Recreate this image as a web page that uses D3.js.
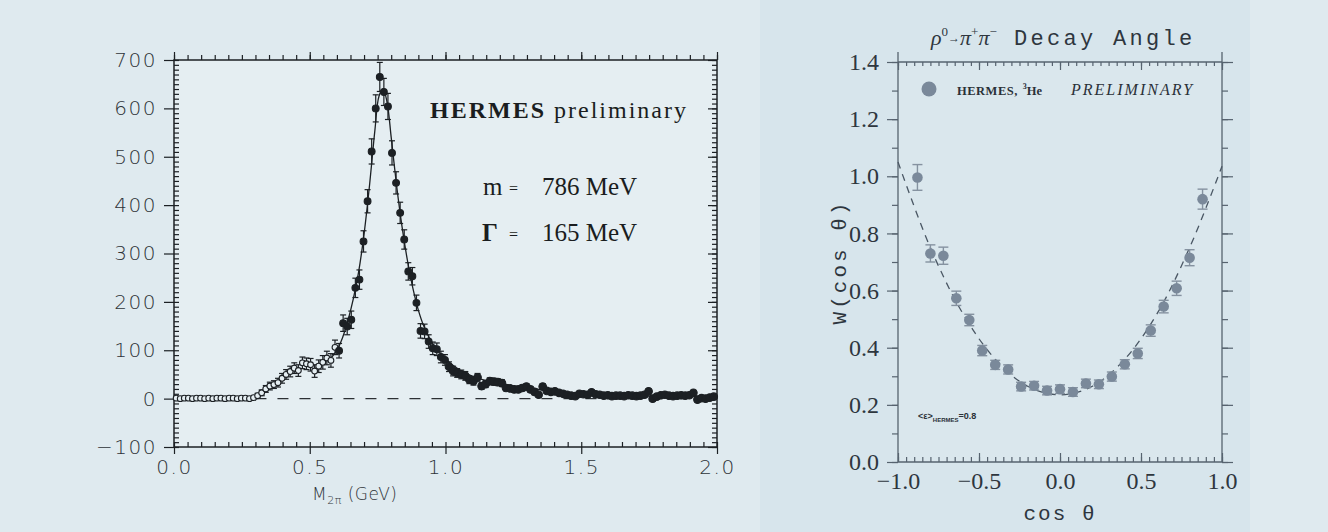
<!DOCTYPE html>
<html>
<head>
<meta charset="utf-8">
<script src="https://cdn.jsdelivr.net/npm/d3@7/dist/d3.min.js"></script>
<style>
  body { margin: 0; background: #dde9ef; }
  svg { display: block; }
</style>
</head>
<body>
<div id="chart"></div>
<script>
(function() {
  // ---- left panel: pi+pi- invariant mass spectrum ----
  var massBins = [
    0.008, 0.023, 0.038, 0.053, 0.068, 0.083, 0.098, 0.113, 0.128, 0.143,
    0.158, 0.173, 0.188, 0.203, 0.218, 0.233, 0.248, 0.263, 0.278, 0.293,
    0.308, 0.323, 0.338, 0.353, 0.368, 0.383, 0.398, 0.413, 0.428, 0.443,
    0.458, 0.473, 0.488, 0.503, 0.518, 0.533, 0.548, 0.563, 0.578, 0.593,
    0.608, 0.623, 0.638, 0.653, 0.668, 0.683, 0.698, 0.713, 0.728, 0.743,
    0.758, 0.773, 0.788, 0.803, 0.818, 0.833, 0.848, 0.863, 0.878, 0.893,
    0.908, 0.923, 0.938, 0.953, 0.968, 0.983, 0.998, 1.013, 1.028, 1.043,
    1.058, 1.073, 1.088, 1.103, 1.118, 1.133, 1.148, 1.163, 1.178, 1.193,
    1.208, 1.223, 1.238, 1.253, 1.268, 1.283, 1.298, 1.313, 1.328, 1.343,
    1.358, 1.373, 1.388, 1.403, 1.418, 1.433, 1.448, 1.463, 1.478, 1.493,
    1.508, 1.523, 1.538, 1.553, 1.568, 1.583, 1.598, 1.613, 1.628, 1.643,
    1.658, 1.673, 1.688, 1.703, 1.718, 1.733, 1.748, 1.763, 1.778, 1.793,
    1.808, 1.823, 1.838, 1.853, 1.868, 1.883, 1.898, 1.913, 1.928, 1.943,
    1.958, 1.973, 1.988
  ];

  var counts = [
    1, 0, 1, 1, 0, 1, 1, 0, 1, 0, 1, 1, 0, 1, 1, 0, 1, 1, 0, 2,
    6, 12, 20, 26, 29, 33, 42, 50, 56, 63, 58, 74, 72, 70, 57, 67, 75, 84, 79, 106,
    99, 156, 149, 163, 229, 246, 325, 408, 511, 600, 665, 634, 604, 508, 446, 384, 329, 263, 253, 198,
    140, 139, 118, 104, 102, 86, 80, 66, 57, 53, 50, 47, 39, 36, 44, 26, 30, 36, 35, 34,
    32, 22, 21, 19, 19, 22, 25, 19, 14, 8, 25, 16, 14, 15, 12, 10, 8, 6, 5, 10,
    9, 8, 13, 9, 8, 6, 7, 5, 6, 6, 5, 7, 6, 5, 6, 8, 15, 0, 4, 7,
    8, 6, 5, 6, 7, 6, 7, 12, -2, 1, 0, 2, 4
  ];

  var countErrs = [
    2, 2, 2, 2, 2, 2, 2, 2, 2, 2, 2, 2, 2, 2, 2, 2, 2, 2, 2, 2,
    5, 6, 7, 8, 8, 9, 10, 10, 11, 11, 12, 12, 12, 13, 13, 13, 14, 14, 14, 15,
    15, 17, 17, 18, 20, 20, 22, 24, 26, 28, 30, 28, 27, 25, 23, 22, 20, 18, 18, 16,
    15, 15, 14, 13, 13, 12, 11, 10, 10, 9, 9, 9, 8, 8, 8, 7, 7, 7, 7, 7,
    7, 6, 6, 6, 6, 6, 6, 6, 6, 5, 6, 5, 5, 5, 5, 5, 5, 5, 5, 5,
    5, 5, 5, 5, 5, 5, 5, 5, 5, 5, 5, 5, 5, 5, 5, 5, 5, 5, 5, 5,
    5, 5, 5, 5, 5, 5, 5, 5, 5, 5, 5, 5, 5
  ];

  // below this mass the points are drawn hollow
  var openBelow = 0.6;

  var fitMass = [0.58, 0.60, 0.62, 0.64, 0.66, 0.68, 0.70, 0.72, 0.74, 0.755, 0.77, 0.785, 0.80, 0.82, 0.84,
    0.86, 0.88, 0.90, 0.92, 0.95, 1.00, 1.05, 1.10, 1.15, 1.20, 1.30, 1.40, 1.50, 1.60, 1.80, 2.00];
  var fitCounts = [85, 100, 125, 160, 205, 262, 340, 440, 555, 625, 640, 612, 540, 440, 355,
    285, 228, 183, 150, 116, 82, 60, 46, 37, 31, 22, 15, 10, 7, 5, 4];

  var massTicks = [0, 0.5, 1, 1.5, 2];
  var massTickLabels = ['0.0', '0.5', '1.0', '1.5', '2.0'];
  var countTicks = [-100, 0, 100, 200, 300, 400, 500, 600, 700];
  var countTickLabels = ['\u2212100', '0', '100', '200', '300', '400', '500', '600', '700'];

  // ---- right panel: rho0 decay angle ----
  var cosBins = [-0.88, -0.80, -0.72, -0.64, -0.56, -0.48, -0.40, -0.32, -0.24, -0.16, -0.08, 0.0,
    0.08, 0.16, 0.24, 0.32, 0.40, 0.48, 0.56, 0.64, 0.72, 0.80, 0.88];
  var wValues = [0.996, 0.730, 0.722, 0.573, 0.497, 0.390, 0.340, 0.324, 0.264, 0.267, 0.250, 0.255,
    0.245, 0.275, 0.272, 0.299, 0.342, 0.380, 0.460, 0.544, 0.608, 0.715, 0.920];
  var wErrs = [0.045, 0.03, 0.03, 0.025, 0.02, 0.018, 0.016, 0.016, 0.015, 0.015, 0.015, 0.015,
    0.015, 0.015, 0.015, 0.016, 0.016, 0.018, 0.02, 0.022, 0.025, 0.028, 0.035];

  var fitCos = [-1.0, -0.8, -0.6, -0.4, -0.2, 0.0, 0.2, 0.4, 0.6, 0.8, 1.0];
  var fitW = [1.05, 0.75, 0.52, 0.36, 0.265, 0.235, 0.265, 0.36, 0.52, 0.75, 1.035];

  var cosTicks = [-1, -0.5, 0, 0.5, 1];
  var cosTickLabels = ['\u22121.0', '\u22120.5', '0.0', '0.5', '1.0'];
  var wTicks = [0, 0.2, 0.4, 0.6, 0.8, 1.0, 1.2, 1.4];
  var wTickLabels = ['0.0', '0.2', '0.4', '0.6', '0.8', '1.0', '1.2', '1.4'];

  var svg = d3.select('#chart').append('svg').attr('width', 1328).attr('height', 532);

  svg.append('rect').attr('width', 1328).attr('height', 532).attr('fill', '#dfeaef');
  svg.append('rect').attr('x', 760).attr('width', 490).attr('height', 532).attr('fill', '#d7e5ec');

  var ticksOnly = function(g, axis, color) {
    g.call(axis);
    g.select('.domain').remove();
    g.selectAll('.tick line').attr('stroke', color).attr('stroke-width', 1.2);
    return g;
  };

  // =========== left plot ===========
  var ink = '#1c2024';
  var labelInk = '#2e3338';
  var xL = d3.scaleLinear().domain([0, 2]).range([174, 717]);
  var yL = d3.scaleLinear().domain([-100, 700]).range([447, 60]);
  var left = svg.append('g');

  left.append('rect')
    .attr('x', xL(0)).attr('y', yL(700))
    .attr('width', xL(2) - xL(0)).attr('height', yL(-100) - yL(700))
    .attr('fill', '#e5eef2').attr('stroke', ink).attr('stroke-width', 1.5);

  var minorCount = d3.range(-100, 701, 10);
  var minorMass = d3.range(0, 2.001, 0.05);

  ticksOnly(left.append('g').attr('transform', 'translate(' + xL(0) + ',0)'),
    d3.axisRight(yL).tickValues(minorCount).tickSize(5).tickFormat(''), ink);
  ticksOnly(left.append('g').attr('transform', 'translate(' + xL(2) + ',0)'),
    d3.axisLeft(yL).tickValues(minorCount).tickSize(5).tickFormat(''), ink);
  ticksOnly(left.append('g').attr('transform', 'translate(' + xL(2) + ',0)'),
    d3.axisLeft(yL).tickValues(countTicks).tickSize(9).tickFormat(''), ink);
  ticksOnly(left.append('g').attr('transform', 'translate(0,' + yL(700) + ')'),
    d3.axisTop(xL).tickValues(minorMass).tickSize(5).tickFormat(''), ink);
  ticksOnly(left.append('g').attr('transform', 'translate(0,' + yL(700) + ')'),
    d3.axisTop(xL).tickValues(massTicks).tickSize(8).tickFormat(''), ink);
  ticksOnly(left.append('g').attr('transform', 'translate(0,' + yL(-100) + ')'),
    d3.axisTop(xL).tickValues(minorMass).tickSize(5).tickFormat(''), ink);

  var yAxisL = ticksOnly(left.append('g').attr('transform', 'translate(' + xL(0) + ',0)'),
    d3.axisLeft(yL).tickValues(countTicks).tickSize(10).tickPadding(7)
      .tickFormat(function(d, i) { return countTickLabels[i]; }), ink);
  yAxisL.attr('font-family', '"DejaVu Sans", sans-serif').attr('font-size', 20)
    .selectAll('text').attr('fill', labelInk).attr('font-weight', 200).attr('letter-spacing', 1.5);

  var xAxisL = ticksOnly(left.append('g').attr('transform', 'translate(0,' + yL(-100) + ')'),
    d3.axisBottom(xL).tickValues(massTicks).tickSize(7).tickPadding(6)
      .tickFormat(function(d, i) { return massTickLabels[i]; }), ink);
  xAxisL.attr('font-family', '"DejaVu Sans", sans-serif').attr('font-size', 20)
    .selectAll('text').attr('fill', labelInk).attr('font-weight', 200).attr('letter-spacing', 1.5);

  var xTitle = left.append('text').attr('x', 312).attr('y', 500)
    .attr('font-family', '"DejaVu Sans", sans-serif').attr('font-weight', 200)
    .attr('font-size', 17).attr('fill', labelInk).attr('letter-spacing', 0.5);
  xTitle.append('tspan').text('M');
  xTitle.append('tspan').attr('font-size', 11).attr('dy', 4).text('2\u03c0');
  xTitle.append('tspan').attr('dy', -4).text(' (GeV)');

  // zero line
  left.append('line')
    .attr('x1', xL(0.3)).attr('x2', xL(2)).attr('y1', yL(0)).attr('y2', yL(0))
    .attr('stroke', '#2c3034').attr('stroke-width', 1.3).attr('stroke-dasharray', '11,11');

  // fit curve
  var fitLine = d3.line()
    .x(function(d, i) { return xL(fitMass[i]); })
    .y(function(d) { return yL(d); })
    .curve(d3.curveCatmullRom);
  left.append('path').datum(fitCounts).attr('d', fitLine)
    .attr('fill', 'none').attr('stroke', ink).attr('stroke-width', 1.3);

  var massPts = massBins.map(function(m, i) {
    return { m: m, v: counts[i], e: countErrs[i] };
  });

  var errL = left.append('g').attr('stroke', ink).attr('stroke-width', 1.2);
  errL.selectAll('line.bar').data(massPts).enter().append('line').attr('class', 'bar')
    .attr('x1', function(d) { return xL(d.m); }).attr('x2', function(d) { return xL(d.m); })
    .attr('y1', function(d) { return yL(d.v - d.e); }).attr('y2', function(d) { return yL(d.v + d.e); });
  errL.selectAll('line.capHi').data(massPts).enter().append('line').attr('class', 'capHi')
    .attr('x1', function(d) { return xL(d.m) - 3; }).attr('x2', function(d) { return xL(d.m) + 3; })
    .attr('y1', function(d) { return yL(d.v + d.e); }).attr('y2', function(d) { return yL(d.v + d.e); });
  errL.selectAll('line.capLo').data(massPts).enter().append('line').attr('class', 'capLo')
    .attr('x1', function(d) { return xL(d.m) - 3; }).attr('x2', function(d) { return xL(d.m) + 3; })
    .attr('y1', function(d) { return yL(d.v - d.e); }).attr('y2', function(d) { return yL(d.v - d.e); });

  left.append('g').selectAll('circle').data(massPts).enter().append('circle')
    .attr('cx', function(d) { return xL(d.m); })
    .attr('cy', function(d) { return yL(d.v); })
    .attr('r', function(d) { return d.m < openBelow ? 2.9 : (d.m > 1.0 ? 3.8 : 3.4); })
    .attr('fill', function(d) { return d.m < openBelow ? '#e5eef2' : ink; })
    .attr('stroke', ink).attr('stroke-width', 1.1);

  // annotations
  var hermes = left.append('text').attr('x', 430).attr('y', 118)
    .attr('font-family', '"Liberation Serif", serif').attr('font-size', 24)
    .attr('fill', '#1a1d20').attr('letter-spacing', 2);
  hermes.append('tspan').attr('font-weight', 'bold').text('HERMES');
  hermes.append('tspan').text(' preliminary');

  var serifTxt = function(x, y, size, txt, weight) {
    return left.append('text').attr('x', x).attr('y', y)
      .attr('font-family', '"Liberation Serif", serif').attr('font-size', size)
      .attr('font-weight', weight || 'normal').attr('fill', '#1a1d20').text(txt);
  };
  serifTxt(483, 195, 25, 'm');
  serifTxt(509, 194, 16, '=');
  serifTxt(542, 195, 25, '786 MeV');
  serifTxt(482, 241, 25, '\u0393', 'bold');
  serifTxt(509, 240, 16, '=');
  serifTxt(542, 241, 25, '165 MeV');

  // =========== right plot ===========
  var gray = '#56636f';
  var xR = d3.scaleLinear().domain([-1, 1]).range([898, 1222]);
  var yR = d3.scaleLinear().domain([0, 1.4]).range([462, 62]);
  var right = svg.append('g');

  right.append('rect')
    .attr('x', xR(-1)).attr('y', yR(1.4))
    .attr('width', xR(1) - xR(-1)).attr('height', yR(0) - yR(1.4))
    .attr('fill', '#dae7ed');

  right.append('line').attr('x1', xR(-1)).attr('x2', xR(1)).attr('y1', yR(1.4)).attr('y2', yR(1.4))
    .attr('stroke', gray).attr('stroke-width', 1.3);
  right.append('line').attr('x1', xR(-1)).attr('x2', xR(1)).attr('y1', yR(0)).attr('y2', yR(0))
    .attr('stroke', gray).attr('stroke-width', 1.3);
  right.append('line').attr('x1', xR(-1)).attr('x2', xR(-1)).attr('y1', yR(1.4) - 10).attr('y2', yR(0))
    .attr('stroke', gray).attr('stroke-width', 1.3);
  right.append('line').attr('x1', xR(1)).attr('x2', xR(1)).attr('y1', yR(1.4) - 10).attr('y2', yR(0))
    .attr('stroke', gray).attr('stroke-width', 1.3);

  var minorW = d3.range(0, 1.401, 0.1);
  var minorCos = d3.range(-1, 1.001, 0.05);

  ticksOnly(right.append('g').attr('transform', 'translate(' + xR(-1) + ',0)'),
    d3.axisLeft(yR).tickValues(minorW).tickSize(6).tickFormat(''), gray);
  ticksOnly(right.append('g').attr('transform', 'translate(' + xR(1) + ',0)'),
    d3.axisRight(yR).tickValues(minorW).tickSize(6).tickFormat(''), gray);
  ticksOnly(right.append('g').attr('transform', 'translate(' + xR(1) + ',0)'),
    d3.axisRight(yR).tickValues(wTicks).tickSize(11).tickFormat(''), gray);
  ticksOnly(right.append('g').attr('transform', 'translate(0,' + yR(1.4) + ')'),
    d3.axisBottom(xR).tickValues(minorCos).tickSize(4).tickFormat(''), gray);
  ticksOnly(right.append('g').attr('transform', 'translate(0,' + yR(1.4) + ')'),
    d3.axisBottom(xR).tickValues(cosTicks).tickSize(8).tickFormat(''), gray);
  ticksOnly(right.append('g').attr('transform', 'translate(0,' + yR(0) + ')'),
    d3.axisTop(xR).tickValues(minorCos).tickSize(5).tickFormat(''), gray);
  ticksOnly(right.append('g').attr('transform', 'translate(0,' + yR(0) + ')'),
    d3.axisTop(xR).tickValues(cosTicks).tickSize(9).tickFormat(''), gray);

  var yAxisR = ticksOnly(right.append('g').attr('transform', 'translate(' + xR(-1) + ',0)'),
    d3.axisLeft(yR).tickValues(wTicks).tickSize(11).tickPadding(8)
      .tickFormat(function(d, i) { return wTickLabels[i]; }), gray);
  yAxisR.attr('font-family', '"Liberation Serif", serif').attr('font-size', 24)
    .selectAll('text').attr('fill', '#2e363e');

  var xAxisR = ticksOnly(right.append('g').attr('transform', 'translate(0,' + yR(0) + ')'),
    d3.axisBottom(xR).tickValues(cosTicks).tickSize(0).tickPadding(10)
      .tickFormat(function(d, i) { return cosTickLabels[i]; }), gray);
  xAxisR.attr('font-family', '"Liberation Serif", serif').attr('font-size', 24)
    .selectAll('text').attr('fill', '#2e363e');

  right.append('text').attr('x', xR(0)).attr('y', 520).attr('text-anchor', 'middle')
    .attr('font-family', '"Liberation Mono", monospace').attr('font-size', 21)
    .attr('letter-spacing', 2).attr('fill', '#2e363e').text('cos \u03b8');

  right.append('text').attr('transform', 'translate(846,' + yR(0.7) + ') rotate(-90)')
    .attr('text-anchor', 'middle')
    .attr('font-family', '"Liberation Mono", monospace').attr('font-size', 21)
    .attr('letter-spacing', 3).attr('fill', '#2e363e').text('W(cos \u03b8)');

  // title
  var title = right.append('text').attr('x', 931).attr('y', 45)
    .attr('font-family', '"Liberation Serif", serif').attr('font-size', 22).attr('fill', '#2e363e');
  title.append('tspan').attr('font-style', 'italic').text('\u03c1');
  title.append('tspan').attr('font-size', 13).attr('dy', -9).text('0');
  title.append('tspan').attr('font-size', 12).attr('dy', 6).text('\u2192');
  title.append('tspan').attr('font-style', 'italic').attr('dy', 3).text('\u03c0');
  title.append('tspan').attr('font-size', 13).attr('dy', -9).text('+');
  title.append('tspan').attr('font-style', 'italic').attr('dy', 9).text('\u03c0');
  title.append('tspan').attr('font-size', 13).attr('dy', -9).text('\u2212');
  title.append('tspan').attr('dy', 9).attr('x', 1014)
    .attr('font-family', '"Liberation Mono", monospace').attr('font-size', 22)
    .attr('letter-spacing', 3.3).text('Decay Angle');

  // fit curve (dashed)
  var wLine = d3.line()
    .x(function(d, i) { return xR(fitCos[i]); })
    .y(function(d) { return yR(d); })
    .curve(d3.curveCatmullRom);
  right.append('path').datum(fitW).attr('d', wLine)
    .attr('fill', 'none').attr('stroke', '#4a5764').attr('stroke-width', 1.3)
    .attr('stroke-dasharray', '7,6');

  var wPts = cosBins.map(function(c, i) {
    return { c: c, v: wValues[i], e: wErrs[i] };
  });
  var errR = right.append('g').attr('stroke', '#8592a0').attr('stroke-width', 1.4);
  errR.selectAll('line.bar').data(wPts).enter().append('line').attr('class', 'bar')
    .attr('x1', function(d) { return xR(d.c); }).attr('x2', function(d) { return xR(d.c); })
    .attr('y1', function(d) { return yR(d.v - d.e); }).attr('y2', function(d) { return yR(d.v + d.e); });
  errR.selectAll('line.capHi').data(wPts).enter().append('line').attr('class', 'capHi')
    .attr('x1', function(d) { return xR(d.c) - 5; }).attr('x2', function(d) { return xR(d.c) + 5; })
    .attr('y1', function(d) { return yR(d.v + d.e); }).attr('y2', function(d) { return yR(d.v + d.e); });
  errR.selectAll('line.capLo').data(wPts).enter().append('line').attr('class', 'capLo')
    .attr('x1', function(d) { return xR(d.c) - 5; }).attr('x2', function(d) { return xR(d.c) + 5; })
    .attr('y1', function(d) { return yR(d.v - d.e); }).attr('y2', function(d) { return yR(d.v - d.e); });

  right.append('g').selectAll('circle').data(wPts).enter().append('circle')
    .attr('cx', function(d) { return xR(d.c); })
    .attr('cy', function(d) { return yR(d.v); })
    .attr('r', 5.3).attr('fill', '#7a899a');

  // legend
  right.append('circle').attr('cx', 929).attr('cy', 89).attr('r', 7.5).attr('fill', '#7a899a');
  var leg = right.append('text').attr('x', 957).attr('y', 95)
    .attr('font-family', '"Liberation Serif", serif').attr('fill', '#2a3138');
  leg.append('tspan').attr('font-size', 12.5).attr('font-weight', 'bold').attr('letter-spacing', 0.5).text('HERMES,');
  leg.append('tspan').attr('font-size', 8).attr('font-weight', 'bold').attr('dy', -6).attr('dx', 5).text('3');
  leg.append('tspan').attr('font-size', 12.5).attr('font-weight', 'bold').attr('dy', 6).text('He');
  leg.append('tspan').attr('x', 1071).attr('font-size', 16).attr('font-style', 'italic')
    .attr('letter-spacing', 2).text('PRELIMINARY');

  var eps = right.append('text').attr('x', 918).attr('y', 419)
    .attr('font-family', '"Liberation Sans", sans-serif').attr('font-size', 9)
    .attr('font-weight', 'bold').attr('fill', '#2a3138');
  eps.append('tspan').text('<\u03b5>');
  eps.append('tspan').attr('font-size', 6).attr('dy', 3).text('HERMES');
  eps.append('tspan').attr('dy', -3).text('=0.8');
}).call(this);
</script>
</body>
</html>
